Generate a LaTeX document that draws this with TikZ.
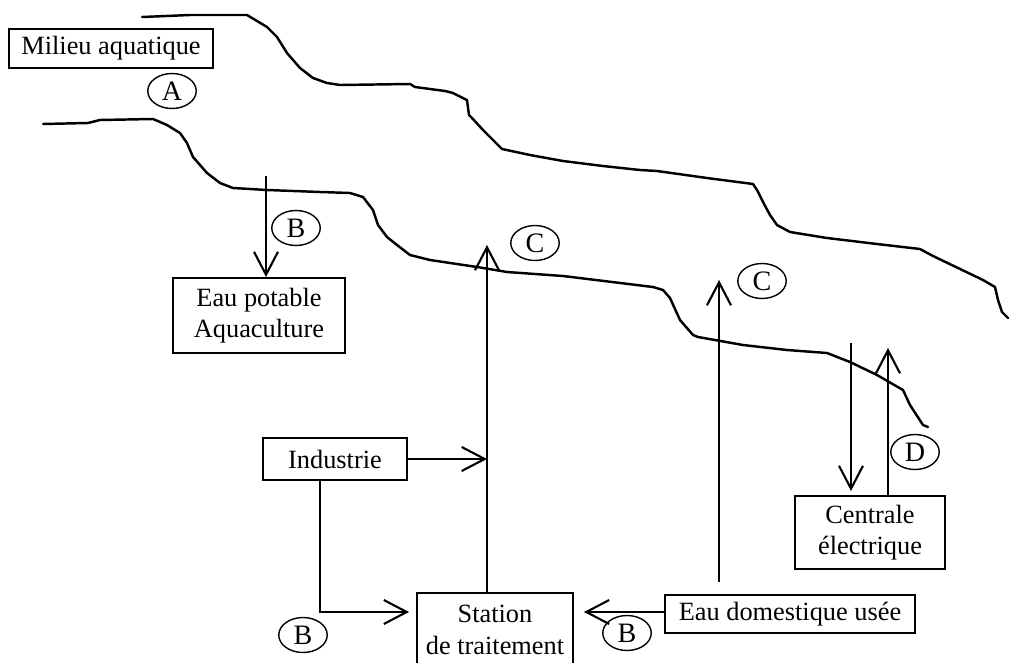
\documentclass[tikz,border=0pt]{standalone}
\usepackage{fontspec}
\setmainfont{Liberation Serif}
\usetikzlibrary{arrows.meta,shapes.geometric}

\tikzset{
  boite/.style={draw, line width=1.1pt, inner sep=2pt, align=center, font=\fontsize{15}{18}\selectfont},
  repere/.style={draw, ellipse, line width=0.8pt, inner sep=0pt, minimum width=0.97cm, minimum height=0.7cm, font=\fontsize{16}{18}\selectfont},
  berge/.style={line width=1.4pt, line join=round, line cap=round},
  fleche/.style={line width=1.2pt, -{Straight Barb[length=4.6mm,width=4.8mm]}}
}

\begin{document}
\begin{tikzpicture}[x=0.02cm, y=-0.02cm]
\useasboundingbox (0,0) rectangle (1009,663);

% Berges du cours d'eau
\draw[berge] (142,17) -- (190,15) -- (247,15) -- (267,27) -- (277,37) -- (287,53) -- (300,68) -- (313,78) -- (327,83) -- (340,85)
  -- (410,84) -- (415,87) -- (445,91) -- (453,93) -- (467,100) -- (469,115) -- (472,118) -- (483,130) -- (502,149)
  -- (530,155) -- (563,161) -- (603,166) -- (640,170) -- (657,171) -- (707,178) -- (753,184) -- (757,190) -- (763,202)
  -- (770,215) -- (777,225) -- (790,232) -- (827,238) -- (877,244) -- (920,249) -- (933,256) -- (983,280) -- (995,287)
  -- (998,300) -- (1002,312) -- (1008,318);
\draw[berge] (43,124) -- (88,123) -- (100,120) -- (153,119) -- (167,125) -- (180,133) -- (187,143) -- (193,157) -- (207,173)
  -- (220,183) -- (233,188) -- (267,190) -- (320,192) -- (350,193) -- (363,197) -- (373,210) -- (378,225) -- (387,237)
  -- (397,245) -- (410,255) -- (430,260) -- (477,267) -- (507,272) -- (563,276) -- (653,287) -- (663,290) -- (670,298)
  -- (680,320) -- (693,335) -- (698,337) -- (743,345) -- (787,350) -- (827,353) -- (850,362) -- (877,375) -- (903,390)
  -- (910,405) -- (923,425) -- (928,427);

% Boites
\node[boite, minimum width=4.08cm, minimum height=0.78cm] (milieu) at (111,48.5) {Milieu aquatique};
\node[boite, minimum width=3.44cm, minimum height=1.5cm] (eaupot) at (259,315.5) {Eau potable\\Aquaculture};
\node[boite, minimum width=2.88cm, minimum height=0.84cm] (indus) at (335,459) {Industrie};
\node[boite, minimum width=3.12cm, minimum height=1.48cm] (stat) at (495,630) {Station\\de traitement};
\node[boite, minimum width=5cm, minimum height=0.76cm] (dom) at (790,614) {Eau domestique usée};
\node[boite, minimum width=3cm, minimum height=1.46cm] (cent) at (870,532.5) {Centrale\\électrique};

% Reperes
\node[repere] (repA) at (172,91) {A};
\node[repere] (repB) at (296,228) {B};
\node[repere] (repC) at (535,243) {C};
\node[repere] (repCC) at (762,281) {C};
\node[repere] (repD) at (915,452) {D};
\node[repere] (repBB) at (303,635) {B};
\node[repere] (repBBB) at (627,633) {B};

% Points libres
\coordinate (prise) at (266,176);
\coordinate (rejet) at (487,245);
\coordinate (coude) at (320,612);
\coordinate (rejetdom) at (719,280);
\coordinate (priseC) at (851,343);
\coordinate (rejetC) at (888,348);

% Fleches
\draw[fleche] (prise) -- (prise |- eaupot.north);
\draw[fleche] (rejet |- stat.north) -- (rejet);
\draw[fleche] (indus.east) -- (indus.east -| rejet);
\draw[fleche, shorten >=0.14cm] (coude |- indus.south) -- (coude) -- (stat.west |- coude);
\draw[fleche, shorten >=0.2cm] (dom.west |- coude) -- (stat.east |- coude);
\draw[fleche, shorten <=0.24cm] (rejetdom |- dom.north) -- (rejetdom);
\draw[fleche, shorten >=0.08cm] (priseC) -- (priseC |- cent.north);
\draw[fleche] (rejetC |- cent.north) -- (rejetC);
\end{tikzpicture}
\end{document}
